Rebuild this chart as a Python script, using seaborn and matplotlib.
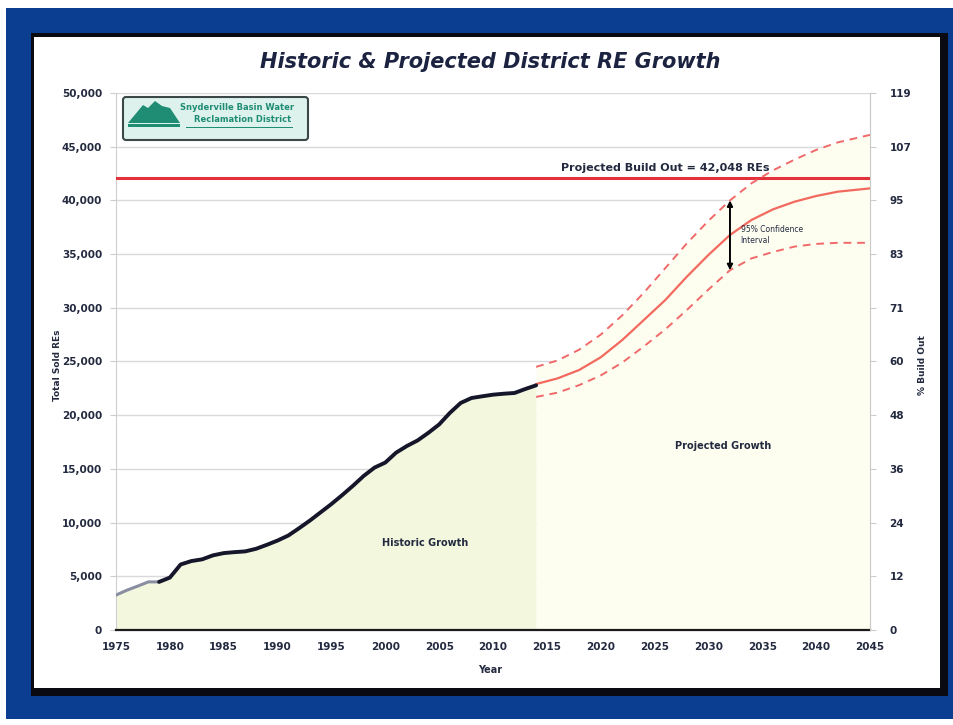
import matplotlib
matplotlib.use("Agg")
import matplotlib.pyplot as plt
import seaborn as sns
import pandas as pd
from matplotlib.patches import Rectangle, FancyBboxPatch, Polygon
from matplotlib.transforms import Affine2D

# ---- data -----------------------------------------------------------------
hist_years = list(range(1975, 2015))
hist_res = [3250, 3700, 4080, 4480, 4480, 4880, 6100, 6420, 6580, 6950,
            7160, 7250, 7320, 7560, 7930, 8330, 8800, 9480, 10190, 10960,
            11730, 12560, 13430, 14350, 15120, 15590, 16510, 17130, 17650, 18360,
            19140, 20220, 21140, 21600, 21760, 21910, 22000, 22070, 22440, 22780]
early_end_year = 1979  # records before this year drawn in grey

proj_years = [2014, 2016, 2018, 2020, 2022, 2024, 2026, 2028, 2030, 2032,
              2034, 2036, 2038, 2040, 2042, 2045]
proj_mid = [22900, 23430, 24210, 25390, 27000, 28860, 30730, 32900, 34920, 36780,
            38180, 39170, 39880, 40410, 40810, 41120]
proj_hi = [24500, 25100, 26100, 27500, 29300, 31400, 33700, 36000, 38100, 40000,
           41600, 42800, 43800, 44700, 45400, 46100]
proj_lo = [21700, 22100, 22800, 23700, 24900, 26400, 28000, 29800, 31700, 33500,
           34600, 35200, 35700, 35950, 36050, 36050]

build_out = 42048
ci_year = 2032

y_ticks = [0, 5000, 10000, 15000, 20000, 25000, 30000, 35000, 40000, 45000, 50000]
y_tick_labels = ["0", "5,000", "10,000", "15,000", "20,000", "25,000",
                 "30,000", "35,000", "40,000", "45,000", "50,000"]
pct_tick_labels = ["0", "12", "24", "36", "48", "60", "71", "83", "95", "107", "119"]
x_ticks = list(range(1975, 2046, 5))

hist = pd.DataFrame({"year": hist_years, "res": hist_res})
proj = pd.DataFrame({"year": proj_years, "mid": proj_mid, "hi": proj_hi, "lo": proj_lo})

# ---- style ----------------------------------------------------------------
sns.set_style("white")
plt.rcParams["font.family"] = ["DejaVu Sans"]

W, H = 954, 725
fig = plt.figure(figsize=(W / 100, H / 100), dpi=100)
fig.patch.set_facecolor("white")
px = Affine2D().scale(1 / W, -1 / H).translate(0, 1) + fig.transFigure

TXT = "#232a40"

# slide frame
fig.add_artist(Rectangle((6, 8), 948, 711, transform=px, facecolor="#0b3d91",
                         edgecolor="none", zorder=-10))
fig.add_artist(Rectangle((31, 33), 917, 663, transform=px, facecolor="#0a0a12",
                         edgecolor="none", zorder=-9))
fig.add_artist(Rectangle((34, 37), 906, 651, transform=px, facecolor="white",
                         edgecolor="none", zorder=-8))

# ---- axes -----------------------------------------------------------------
ax = fig.add_axes([116 / W, 1 - 630 / H, (870 - 116) / W, (630 - 93) / H])
ax.set_facecolor("none")
ax.set_xlim(1975, 2045)
ax.set_ylim(0, 50000)

# shaded areas
ax.fill_between(hist["year"], hist["res"], color="#f2f7dd", zorder=1, lw=0)
ax.fill_between(proj["year"], proj["hi"], color="#fdfdf0", zorder=1, lw=0)

# build-out line
ax.axhline(build_out, color="#e3323b", lw=2.2, zorder=3)

# historic record
early = hist[hist["year"] <= early_end_year]
late = hist[hist["year"] >= early_end_year]
sns.lineplot(data=early, x="year", y="res", ax=ax, color="#8a8ea3", lw=2.2, zorder=4)
sns.lineplot(data=late, x="year", y="res", ax=ax, color="#15162a", lw=2.8, zorder=5)

# projection with 95% band
sns.lineplot(data=proj, x="year", y="mid", ax=ax, color="#f2695e", lw=1.6, zorder=4)
sns.lineplot(data=proj, x="year", y="hi", ax=ax, color="#f06a6a", lw=1.4,
             linestyle=(0, (4, 3)), zorder=4)
sns.lineplot(data=proj, x="year", y="lo", ax=ax, color="#f06a6a", lw=1.4,
             linestyle=(0, (4, 3)), zorder=4)

ci_i = proj_years.index(ci_year)
ax.annotate("", xy=(ci_year, proj_hi[ci_i]), xytext=(ci_year, proj_lo[ci_i]),
            arrowprops=dict(arrowstyle="<|-|>", color="black", lw=1.4,
                            mutation_scale=8, shrinkA=0, shrinkB=0), zorder=6)
ax.text(ci_year + 1.0, (proj_hi[ci_i] + proj_lo[ci_i]) / 2,
        "95% Confidence\nInterval", fontsize=5.5, color=TXT, va="center",
        ha="left", linespacing=1.3, zorder=6)

# text labels
ax.text(2026.0, build_out + 1000, f"Projected Build Out = {build_out:,} REs",
        fontsize=8, fontweight="bold", color=TXT, ha="center", va="center")
ax.text(2003.7, 8100, "Historic Growth", fontsize=7, fontweight="bold",
        color=TXT, ha="center", va="center")
ax.text(2031.4, 17100, "Projected Growth", fontsize=7, fontweight="bold",
        color=TXT, ha="center", va="center")

# ticks, grid, spines
ax.set_xticks(x_ticks)
ax.set_xticks(range(1975, 2046), minor=True)
ax.set_xticklabels([str(t) for t in x_ticks])
ax.set_yticks(y_ticks)
ax.set_yticklabels(y_tick_labels)
ax.yaxis.grid(True, color="#d9d9d9", lw=1)
ax.xaxis.grid(False)
ax.set_axisbelow(True)
ax.tick_params(axis="x", which="major", direction="inout", length=7, width=1.2,
               color="#1a1a1a", labelsize=7.5, labelcolor=TXT, pad=5)
ax.tick_params(axis="x", which="minor", direction="inout", length=4, width=1,
               color="#1a1a1a")
ax.tick_params(axis="y", which="major", length=4, color="#cccccc",
               labelsize=7.5, labelcolor=TXT, pad=6)
for lab in ax.get_xticklabels() + ax.get_yticklabels():
    lab.set_fontweight("bold")
ax.spines["bottom"].set_color("#1a1a1a")
ax.spines["bottom"].set_linewidth(1.6)
ax.spines["left"].set_color("#cfcfcf")
ax.spines["top"].set_visible(False)
ax.spines["right"].set_visible(False)

ax.set_xlabel("Year", fontsize=7, fontweight="bold", color=TXT)
ax.xaxis.set_label_coords(0.496, -0.066)
ax.set_ylabel("Total Sold REs", fontsize=6.5, fontweight="bold", color=TXT)
ax.yaxis.set_label_coords(-0.072, 0.493)

# percent of build-out axis
ax2 = ax.twinx()
ax2.set_ylim(ax.get_ylim())
ax2.set_yticks(y_ticks)
ax2.set_yticklabels(pct_tick_labels)
ax2.tick_params(axis="y", length=4, color="#cccccc", labelsize=7.5,
                labelcolor=TXT, pad=10)
for lab in ax2.get_yticklabels():
    lab.set_fontweight("bold")
for s in ("top", "left", "bottom"):
    ax2.spines[s].set_visible(False)
ax2.spines["right"].set_color("#c8c8c8")
ax2.set_ylabel("% Build Out", fontsize=6.5, fontweight="bold", color=TXT,
               rotation=90)
ax2.yaxis.set_label_coords(1.064, 0.493)
ax2.grid(False)

# title
fig.text(490, 62, "Historic & Projected District RE Growth", transform=px,
         fontsize=15, fontweight="bold", style="italic", color="#1c2340",
         ha="center", va="center")

# district logo
TEAL = "#1f8c74"
fig.add_artist(FancyBboxPatch((123, 97), 185, 43, boxstyle="round,pad=0,rounding_size=3",
                              transform=px, facecolor="#def2ed", edgecolor="#3b4847",
                              lw=1.5, zorder=8))
fig.add_artist(Polygon([(128, 123), (138, 111), (143, 105), (148, 108), (155, 101),
                        (162, 106), (170, 108), (180, 123)], closed=True,
                       transform=px, facecolor=TEAL, edgecolor="none", zorder=9))
fig.add_artist(Rectangle((128, 124), 52, 3, transform=px, facecolor=TEAL,
                         edgecolor="none", zorder=9))
fig.text(237, 108, "Snyderville Basin Water", transform=px, fontsize=6,
         fontweight="bold", color=TEAL, ha="center", va="center", zorder=9)
fig.text(243, 120, "Reclamation District", transform=px, fontsize=6,
         fontweight="bold", color=TEAL, ha="center", va="center", zorder=9)
fig.add_artist(Rectangle((186, 127), 107, 1.2, transform=px, facecolor=TEAL,
                         edgecolor="none", zorder=9))

fig.savefig("out.png", dpi=100)
